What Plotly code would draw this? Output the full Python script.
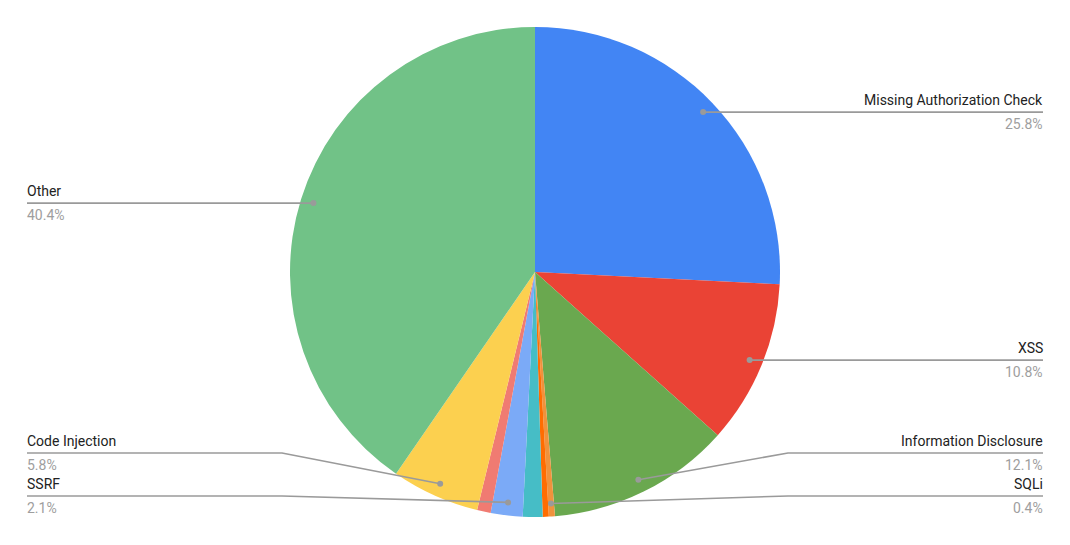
import numpy as np
import plotly.graph_objects as go

# slices, clockwise from 12 o'clock
labels = ["Missing Authorization Check", "XSS", "Information Disclosure", "SQLi",
          "Unlabeled (orange)", "Unlabeled (teal)", "SSRF", "Unlabeled (salmon)",
          "Code Injection", "Other"]
shares = [25.8, 10.8, 12.1, 0.4, 0.4, 1.3, 2.1, 0.9, 5.8, 40.4]
colors = ["#4285F4", "#EA4335", "#6AA84F", "#F0923C", "#FF6D01", "#46BDC6",
          "#7BAAF7", "#F07B72", "#FCD04F", "#71C287"]
shown = ["Missing Authorization Check", "XSS", "Information Disclosure", "SQLi",
         "SSRF", "Code Injection", "Other"]

W, H = 1070, 545
CX, CY, R = 535, 272, 245
LEFT_X, RIGHT_X = 27, 1043
GAP, BOTTOM = 43, 496
LINE = "#9A9A9A"

fig = go.Figure()
fig.add_trace(go.Pie(
    labels=labels, values=shares, sort=False, direction="clockwise", rotation=0,
    marker=dict(colors=colors, line=dict(width=0)),
    textinfo="none", hoverinfo="label+percent",
    domain=dict(x=[0, 1], y=[(H - CY - R) / H, (H - CY + R) / H]),
))

# label anchors: mid-angle of each slice, dot just inside the rim
vals = np.array(shares)
ends = np.cumsum(vals) / vals.sum() * 360
mids = ends - vals / vals.sum() * 180
items = []
for name, val, ang in zip(labels, shares, mids):
    if name not in shown:
        continue
    a = np.radians(ang)
    dx, dy = CX + 0.947 * R * np.sin(a), CY - 0.947 * R * np.cos(a)
    items.append(dict(name=name, val=val, dx=dx, dy=dy, right=dx >= CX))

# keep labels on each side apart, pushing up from the bottom
for side in (True, False):
    grp = sorted([it for it in items if it["right"] == side], key=lambda it: -it["dy"])
    limit = BOTTOM
    for it in grp:
        it["ly"] = min(it["dy"], limit)
        limit = it["ly"] - GAP

for it in items:
    sgn = 1 if it["right"] else -1
    ex = CX + sgn * (R + 8)
    tx = RIGHT_X if it["right"] else LEFT_X
    # leader line + dot drawn as shapes so they sit above the pie
    fig.add_shape(type="path", xref="x", yref="y", layer="above",
                  path=f"M{it['dx']:.1f},{it['dy']:.1f} L{ex:.1f},{it['ly']:.1f} L{tx},{it['ly']:.1f}",
                  line=dict(color=LINE, width=1.6))
    fig.add_shape(type="circle", xref="x", yref="y", layer="above",
                  x0=it["dx"] - 3, x1=it["dx"] + 3, y0=it["dy"] - 3, y1=it["dy"] + 3,
                  fillcolor=LINE, line=dict(width=0))
    anchor = "right" if it["right"] else "left"
    shift = 2 * sgn
    fig.add_annotation(x=tx, y=it["ly"] - 2, text=it["name"], showarrow=False,
                       xanchor=anchor, yanchor="bottom", xshift=shift,
                       font=dict(color="#222222", size=14))
    fig.add_annotation(x=tx, y=it["ly"] + 2, text=f"{it['val']:.1f}%", showarrow=False,
                       xanchor=anchor, yanchor="top", xshift=shift,
                       font=dict(color="#9E9E9E", size=14))

fig.update_layout(
    width=W, height=H, margin=dict(l=0, r=0, t=0, b=0),
    showlegend=False, paper_bgcolor="white", plot_bgcolor="white",
    font=dict(family="Roboto, Arial, sans-serif"),
    xaxis=dict(range=[0, W], visible=False, fixedrange=True),
    yaxis=dict(range=[H, 0], visible=False, fixedrange=True),
)
fig.write_html("out.html", config={"displayModeBar": False},
               post_script="document.body.style.margin='0';")
